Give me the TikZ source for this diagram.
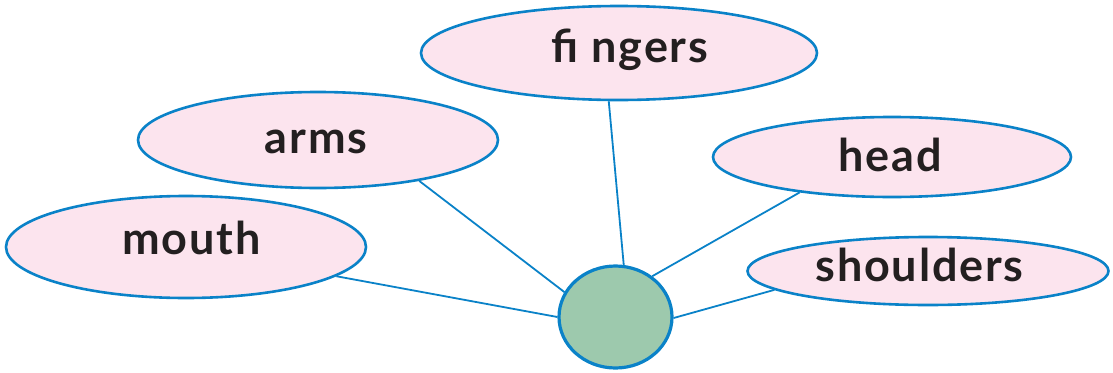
\documentclass[tikz,border=0pt]{standalone}
\usepackage{fontspec}
\setmainfont{Lato}[UprightFont=* Bold, LetterSpace=4]
\usetikzlibrary{shapes.geometric}
\definecolor{lineblue}{RGB}{10,130,200}
\definecolor{bubblepink}{RGB}{252,228,238}
\definecolor{hubgreen}{RGB}{157,201,173}
\definecolor{inkdark}{RGB}{35,31,32}
\tikzset{
  bubble/.style={ellipse, draw=lineblue, fill=bubblepink, line width=2.6pt, inner sep=0pt},
  hub/.style={ellipse, draw=lineblue, fill=hubgreen, line width=3.2pt, inner sep=0pt, minimum width=113pt, minimum height=102pt},
  word/.style={anchor=base, inner sep=0pt, text=inkdark, font=\fontsize{45}{45}\selectfont},
  link/.style={draw=lineblue, line width=1.8pt}
}
\begin{document}
\begin{tikzpicture}[x=1pt,y=-1pt]
\useasboundingbox (0,0) rectangle (1113,372);
\node[bubble, minimum width=396pt, minimum height=94pt] (fingers) at (619,53) {};
\node[bubble, minimum width=360pt, minimum height=96pt] (arms) at (318,140) {};
\node[bubble, minimum width=358pt, minimum height=80pt] (head) at (892,157) {};
\node[bubble, minimum width=360pt, minimum height=102pt] (mouth) at (186,247) {};
\node[bubble, minimum width=361pt, minimum height=68pt] (shoulders) at (928,271) {};
\node[hub] (hub) at (615.5,317) {};
\draw[link] (mouth.-11.4) -- (hub.180);
\draw[link] (arms.-22.2) -- (hub.154.6);
\draw[link] (fingers.-102.7) -- (hub.81.6);
\draw[link] (head.-159.8) -- (hub.48.3);
\draw[link] (shoulders.187.1) -- (hub.-1);
\node[word] (tfingers) at (630,62) {fi ngers};
\node[word] (tarms) at (316,153) {arms};
\node[word] (thead) at (890,171) {head};
\node[word] (tmouth) at (191.5,254) {mouth};
\node[word] (tshoulders) at (919.5,281) {shoulders};
\end{tikzpicture}
\end{document}
